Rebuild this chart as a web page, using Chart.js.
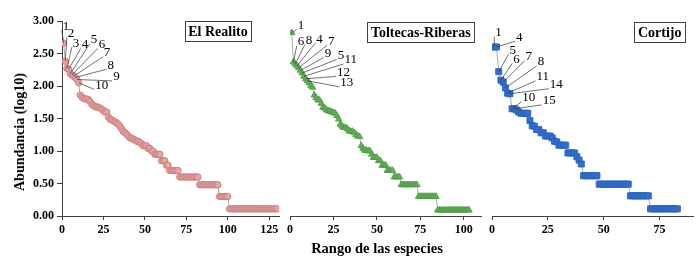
<!DOCTYPE html>
<html>
<head>
<meta charset="utf-8">
<script src="https://cdn.jsdelivr.net/npm/chart.js@4/dist/chart.umd.min.js"></script>
<style>
  body { margin: 0; background: #fff; width: 700px; height: 268px; overflow: hidden; position: relative; font-family: "Liberation Serif", serif; }
  canvas { position: absolute; top: 0; }
  #ytitle { position: absolute; left: 20px; top: 132px; transform: translate(-50%, -50%) rotate(-90deg); font-weight: bold; font-size: 14px; white-space: nowrap; }
  #xtitle { position: absolute; left: 377px; top: 248px; transform: translate(-50%, -50%); font-weight: bold; font-size: 14.5px; white-space: nowrap; }
</style>
</head>
<body>
<canvas id="c1" width="284" height="268" style="left:0"></canvas>
<canvas id="c2" width="202" height="268" style="left:284px"></canvas>
<canvas id="c3" width="214" height="268" style="left:486px"></canvas>
<div id="ytitle">Abundancia (log10)</div>
<div id="xtitle">Rango de las especies</div>
<script>
// log10 abundance, sorted by rank (rank = position + 1)
const realito = [
  2.66, 2.38, 2.27, 2.26, 2.19, 2.17, 2.15, 2.13, 2.10, 2.05,
  1.86, 1.83, 1.81, 1.80, 1.80, 1.79, 1.76, 1.72, 1.70, 1.68,
  1.68, 1.67, 1.66, 1.64, 1.62, 1.60, 1.60, 1.52, 1.49, 1.48,
  1.46, 1.45, 1.43, 1.41, 1.38, 1.34, 1.30, 1.28, 1.26, 1.23,
  1.20, 1.20, 1.18, 1.17, 1.15, 1.15, 1.13, 1.11, 1.08, 1.08,
  1.08, 1.04, 1.04, 1.00, 1.00, 0.95, 0.95, 0.95, 0.95, 0.85,
  0.85, 0.85, 0.78, 0.78, 0.70, 0.70, 0.70, 0.70, 0.70, 0.70,
  0.60, 0.60, 0.60, 0.60, 0.60, 0.60, 0.60, 0.60, 0.60, 0.60,
  0.60, 0.60, 0.48, 0.48, 0.48, 0.48, 0.48, 0.48, 0.48, 0.48,
  0.48, 0.48, 0.48, 0.48, 0.30, 0.30, 0.30, 0.30, 0.30, 0.30,
  0.11, 0.11, 0.11, 0.11, 0.11, 0.11, 0.11, 0.11, 0.11, 0.11,
  0.11, 0.11, 0.11, 0.11, 0.11, 0.11, 0.11, 0.11, 0.11, 0.11,
  0.11, 0.11, 0.11, 0.11, 0.11, 0.11, 0.11, 0.11, 0.11, 0.11
];
const toltecas = [
  2.82, 2.37, 2.34, 2.31, 2.28, 2.24, 2.20, 2.15, 2.11, 2.08,
  2.05, 2.01, 1.98, 1.86, 1.82, 1.79, 1.78, 1.73, 1.67, 1.66,
  1.63, 1.62, 1.61, 1.60, 1.59, 1.58, 1.54, 1.49, 1.41, 1.38,
  1.36, 1.36, 1.34, 1.31, 1.30, 1.30, 1.28, 1.25, 1.23, 1.22,
  1.08, 1.04, 1.01, 1.01, 1.00, 1.00, 0.95, 0.90, 0.90, 0.90,
  0.85, 0.85, 0.78, 0.78, 0.78, 0.70, 0.70, 0.70, 0.70, 0.60,
  0.60, 0.60, 0.60, 0.48, 0.48, 0.48, 0.48, 0.48, 0.48, 0.48,
  0.48, 0.48, 0.48, 0.30, 0.30, 0.30, 0.30, 0.30, 0.30, 0.30,
  0.30, 0.30, 0.30, 0.30, 0.09, 0.09, 0.09, 0.09, 0.09, 0.09,
  0.09, 0.09, 0.09, 0.09, 0.09, 0.09, 0.09, 0.09, 0.09, 0.09,
  0.09, 0.09, 0.09
];
const cortijo = [
  2.60, 2.60, 2.22, 2.09, 2.06, 1.97, 1.89, 1.88, 1.65, 1.65,
  1.63, 1.60, 1.58, 1.58, 1.58, 1.58, 1.47, 1.39, 1.38, 1.33,
  1.33, 1.28, 1.28, 1.23, 1.23, 1.23, 1.20, 1.15, 1.14, 1.09,
  1.09, 1.09, 1.09, 0.97, 0.97, 0.97, 0.97, 0.91, 0.86, 0.80,
  0.62, 0.62, 0.62, 0.62, 0.62, 0.62, 0.62, 0.49, 0.49, 0.49,
  0.49, 0.49, 0.49, 0.49, 0.49, 0.49, 0.49, 0.49, 0.49, 0.49,
  0.49, 0.31, 0.31, 0.31, 0.31, 0.31, 0.31, 0.31, 0.31, 0.31,
  0.11, 0.11, 0.11, 0.11, 0.11, 0.11, 0.11, 0.11, 0.11, 0.11,
  0.11, 0.11, 0.11
];

// species id shown next to the first ten ranks
const realitoTags = ['1', '2', '3', '4', '5', '6', '7', '8', '9', '10'];
const toltecasTags = ['1', '6', '8', '4', '7', '9', '5', '11', '12', '13'];
const cortijoTags = ['1', '4', '5', '6', '7', '8', '11', '14', '10', '15'];

const yTicks = [0, 0.5, 1, 1.5, 2, 2.5, 3];

// label placement (rank, log value) for the callouts
const realitoTagAt = [[2.4, 2.92], [5.5, 2.81], [8.5, 2.66], [13.9, 2.64], [19.3, 2.71],
  [24.2, 2.64], [27.2, 2.51], [29.4, 2.32], [32.8, 2.14], [23.9, 2.01]];
const toltecasTagAt = [[6.3, 2.93], [6.3, 2.68], [11.0, 2.70], [17.0, 2.72], [23.8, 2.69],
  [21.9, 2.50], [29.3, 2.47], [35.0, 2.40], [30.8, 2.21], [32.7, 2.05]];
const cortijoTagAt = [[2.9, 2.82], [12.2, 2.75], [9.3, 2.55], [11.0, 2.41], [16.5, 2.45],
  [21.9, 2.37], [22.7, 2.14], [28.8, 2.02], [16.5, 1.82], [25.6, 1.77]];

const tagPlugin = {
  id: 'tags',
  afterDatasetsDraw(chart, args, opts) {
    const ctx = chart.ctx;
    const meta = chart.getDatasetMeta(0);
    const xs = chart.scales.x, ys = chart.scales.y;
    ctx.save();
    ctx.font = '13px "Liberation Serif"';
    ctx.textBaseline = 'middle';
    ctx.textAlign = 'left';
    opts.text.forEach((t, i) => {
      const pt = meta.data[i];
      const cx = xs.getPixelForValue(opts.at[i][0]);
      const cy = ys.getPixelForValue(opts.at[i][1]);
      const w = ctx.measureText(t).width;
      const lx = cx - w / 2;
      ctx.strokeStyle = '#333';
      ctx.lineWidth = 0.7;
      ctx.beginPath();
      ctx.moveTo(pt.x, pt.y);
      ctx.lineTo(lx - 1, cy + 4);
      ctx.stroke();
      ctx.fillStyle = '#000';
      ctx.fillText(t, lx, cy);
    });

    // site name box
    ctx.font = 'bold 14px "Liberation Serif"';
    const tw = ctx.measureText(opts.title).width;
    const bw = tw + 7, bh = 20;
    const right = chart.chartArea.right + opts.boxRight;
    const top = chart.chartArea.top + opts.boxTop;
    ctx.fillStyle = '#fff';
    ctx.fillRect(right - bw, top, bw, bh);
    ctx.strokeStyle = '#404040';
    ctx.lineWidth = 1;
    ctx.strokeRect(Math.round(right - bw) + 0.5, Math.round(top) + 0.5, Math.round(bw), bh);
    ctx.fillStyle = '#000';
    ctx.textAlign = 'center';
    ctx.fillText(opts.title, right - bw / 2, top + bh / 2 + 1);
    ctx.restore();
  }
};

function makeChart(id, values, style, xmax, showY, pad, tags) {
  const pts = values.map((v, i) => ({ x: i + 1, y: v }));
  return new Chart(document.getElementById(id), {
    type: 'scatter',
    data: {
      datasets: [{
        data: pts,
        showLine: true,
        borderColor: '#a8a8a8',
        borderWidth: 1,
        pointStyle: style.shape,
        pointRadius: style.r,
        pointBackgroundColor: style.fill,
        pointBorderColor: style.edge,
        pointBorderWidth: 0.8
      }]
    },
    options: {
      responsive: false,
      animation: false,
      events: [],
      layout: { padding: pad },
      plugins: { legend: { display: false }, tooltip: { enabled: false }, tags: tags },
      scales: {
        x: {
          type: 'linear',
          min: 0,
          max: xmax,
          afterFit: s => { s.height = 52; },
          ticks: { stepSize: 25, includeBounds: false, color: '#000', padding: 3,
            font: { family: 'Liberation Serif', weight: 'bold', size: 12 } },
          grid: { drawOnChartArea: false, drawTicks: true, tickLength: 4, color: '#404040' },
          border: { color: '#404040', width: 1 }
        },
        y: {
          display: showY,
          min: 0,
          max: 3,
          afterFit: s => { s.width = showY ? 62 : 0; },
          afterBuildTicks: s => { s.ticks = yTicks.map(v => ({ value: v })); },
          ticks: { color: '#000', padding: 3, callback: v => Number(v).toFixed(2),
            font: { family: 'Liberation Serif', weight: 'bold', size: 12 } },
          grid: { drawOnChartArea: false, drawTicks: true, tickLength: 5, color: '#404040' },
          border: { color: '#404040', width: 1 }
        }
      }
    },
    plugins: [tagPlugin]
  });
}

makeChart('c1', realito, { shape: 'circle', r: 3.2, fill: '#e9a3a3', edge: '#c47a7a' }, 131, true,
  { top: 21, left: 0, right: 2, bottom: 0 },
  { text: realitoTags, at: realitoTagAt, title: 'El Realito', boxRight: -28, boxTop: 0 });
makeChart('c2', toltecas, { shape: 'triangle', r: 3.8, fill: '#5fb054', edge: '#4c9a44' }, 110, false,
  { top: 21, left: 3.3, right: 4, bottom: 0 },
  { text: toltecasTags, at: toltecasTagAt, title: 'Toltecas-Riberas', boxRight: -7, boxTop: 1 });
makeChart('c3', cortijo, { shape: 'rect', r: 4.3, fill: '#2f6fd5', edge: '#2a5fb8' }, 90, false,
  { top: 21, left: 2.3, right: 7, bottom: 0 },
  { text: cortijoTags, at: cortijoTagAt, title: 'Cortijo', boxRight: -8, boxTop: 1 });
</script>
</body>
</html>
